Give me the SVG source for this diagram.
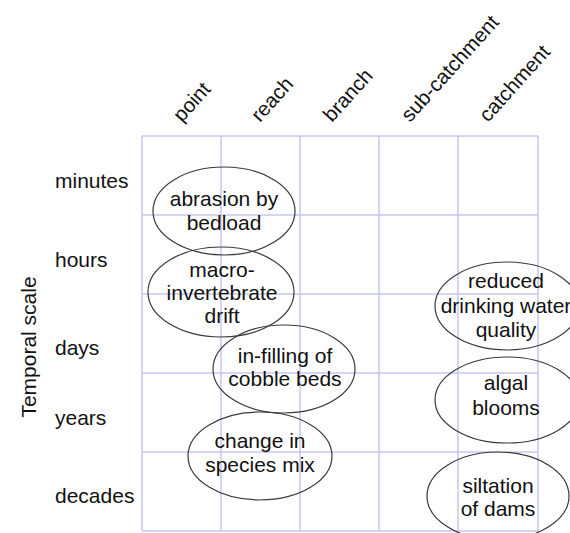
<svg xmlns="http://www.w3.org/2000/svg" width="570" height="533" viewBox="0 0 570 533">
<style>
  .grid { stroke: #c6c6ef; stroke-width: 1.5; fill: none; }
  .ell { fill: none; stroke: #3a3a3a; stroke-width: 1.2; }
  text { font-family: "Liberation Sans", Arial, sans-serif; font-size: 21px; fill: #111; }
  .c { text-anchor: middle; }
  .col { font-size: 20.5px; }
</style>
<rect width="570" height="533" fill="#ffffff"/>
<g id="grid" class="grid">
  <line x1="142" y1="136" x2="142" y2="531"/>
  <line x1="221" y1="136" x2="221" y2="531"/>
  <line x1="300" y1="136" x2="300" y2="531"/>
  <line x1="379" y1="136" x2="379" y2="531"/>
  <line x1="458" y1="136" x2="458" y2="531"/>
  <line x1="538" y1="136" x2="538" y2="531"/>
  <line x1="142" y1="136" x2="538" y2="136"/>
  <line x1="142" y1="215" x2="538" y2="215"/>
  <line x1="142" y1="294" x2="538" y2="294"/>
  <line x1="142" y1="373" x2="538" y2="373"/>
  <line x1="142" y1="452" x2="538" y2="452"/>
  <line x1="142" y1="531" x2="538" y2="531"/>
</g>
<g id="column-labels">
  <text class="col" transform="translate(182,123) rotate(-48)">point</text>
  <text class="col" transform="translate(260,123) rotate(-48)">reach</text>
  <text class="col" transform="translate(332,123) rotate(-48)">branch</text>
  <text class="col" transform="translate(410,123) rotate(-48)">sub-catchment</text>
  <text class="col" transform="translate(488,123) rotate(-48)">catchment</text>
</g>
<g id="row-labels">
  <text x="55" y="188">minutes</text>
  <text x="55" y="267">hours</text>
  <text x="55" y="355">days</text>
  <text x="55" y="425">years</text>
  <text x="55" y="503">decades</text>
</g>
<g id="axis-label">
  <text class="c" transform="translate(36,347) rotate(-90)">Temporal scale</text>
</g>
<g id="abrasion">
  <ellipse class="ell" cx="224" cy="211" rx="71" ry="44"/>
  <text class="c" x="224" y="206">abrasion by</text>
  <text class="c" x="224" y="230">bedload</text>
</g>
<g id="drift">
  <ellipse class="ell" cx="221" cy="292" rx="73" ry="45"/>
  <text class="c" x="222" y="277">macro-</text>
  <text class="c" x="222" y="300">invertebrate</text>
  <text class="c" x="222" y="323">drift</text>
</g>
<g id="infilling">
  <ellipse class="ell" cx="284" cy="369" rx="71" ry="44"/>
  <text class="c" x="285" y="363">in-filling of</text>
  <text class="c" x="285" y="386">cobble beds</text>
</g>
<g id="species">
  <ellipse class="ell" cx="260" cy="456" rx="72" ry="44"/>
  <text class="c" x="260" y="448">change in</text>
  <text class="c" x="260" y="472">species mix</text>
</g>
<g id="drinking">
  <ellipse class="ell" cx="507" cy="306" rx="72" ry="44"/>
  <text class="c" x="506" y="288">reduced</text>
  <text class="c" x="506" y="313">drinking water</text>
  <text class="c" x="506" y="337">quality</text>
</g>
<g id="algal">
  <ellipse class="ell" cx="507" cy="400" rx="72" ry="43"/>
  <text class="c" x="506" y="390">algal</text>
  <text class="c" x="506" y="415">blooms</text>
</g>
<g id="siltation">
  <ellipse class="ell" cx="498" cy="496" rx="71" ry="44"/>
  <text class="c" x="498" y="493">siltation</text>
  <text class="c" x="498" y="516">of dams</text>
</g>
<g id="connectors"></g>
</svg>
